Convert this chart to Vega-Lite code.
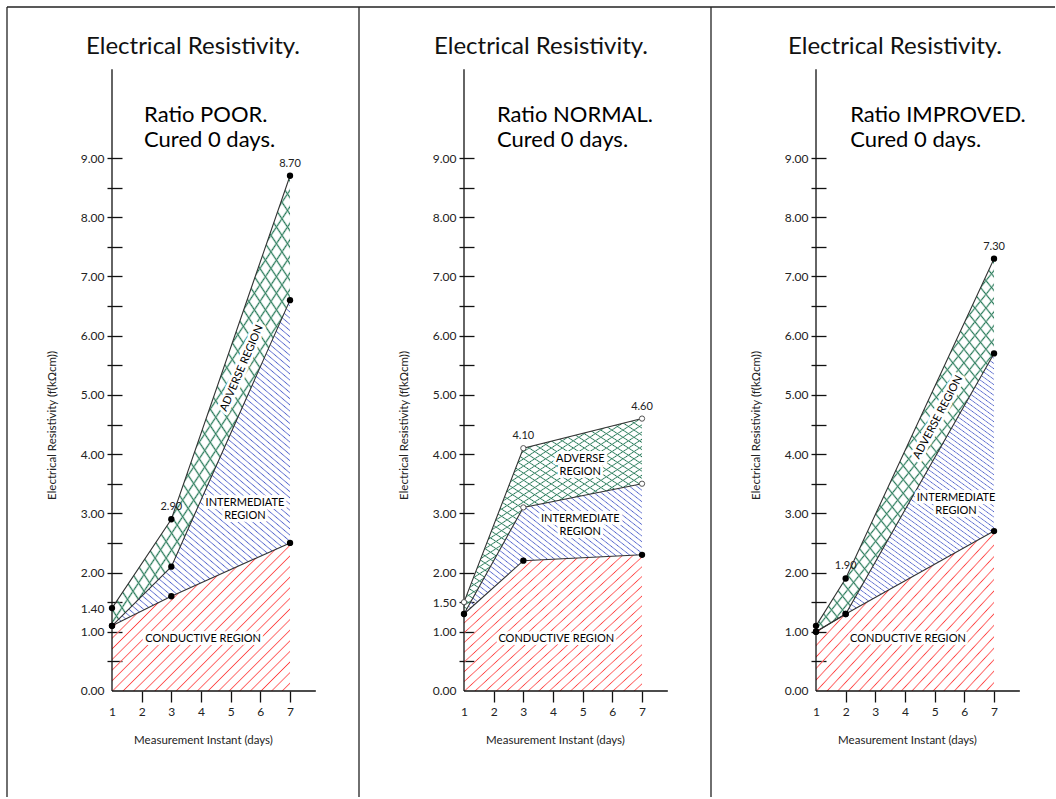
{
"$schema":"https://vega.github.io/schema/vega-lite/v6.json",
"padding":{"left":6,"top":6,"right":0,"bottom":0},
"background":"white",
"spacing":0,
"bounds":"flush",
"params":[
{"name":"gred","value":{"gradient":"linear","x1":0,"y1":0,"x2":1.409,"y2":1.172,"stops":[
{"offset":0,"color":"#f44"},{"offset":0.004,"color":"#fff0"},{"offset":0.021,"color":"#fff0"},
{"offset":0.025,"color":"#f44"},{"offset":0.029,"color":"#fff0"},{"offset":0.046,"color":"#fff0"},
{"offset":0.05,"color":"#f44"},{"offset":0.054,"color":"#fff0"},{"offset":0.071,"color":"#fff0"},
{"offset":0.075,"color":"#f44"},{"offset":0.079,"color":"#fff0"},{"offset":0.096,"color":"#fff0"},
{"offset":0.1,"color":"#f44"},{"offset":0.104,"color":"#fff0"},{"offset":0.121,"color":"#fff0"},
{"offset":0.125,"color":"#f44"},{"offset":0.129,"color":"#fff0"},{"offset":0.146,"color":"#fff0"},
{"offset":0.15,"color":"#f44"},{"offset":0.154,"color":"#fff0"},{"offset":0.171,"color":"#fff0"},
{"offset":0.175,"color":"#f44"},{"offset":0.179,"color":"#fff0"},{"offset":0.196,"color":"#fff0"},
{"offset":0.2,"color":"#f44"},{"offset":0.204,"color":"#fff0"},{"offset":0.221,"color":"#fff0"},
{"offset":0.225,"color":"#f44"},{"offset":0.229,"color":"#fff0"},{"offset":0.246,"color":"#fff0"},
{"offset":0.25,"color":"#f44"},{"offset":0.254,"color":"#fff0"},{"offset":0.271,"color":"#fff0"},
{"offset":0.275,"color":"#f44"},{"offset":0.279,"color":"#fff0"},{"offset":0.296,"color":"#fff0"},
{"offset":0.3,"color":"#f44"},{"offset":0.304,"color":"#fff0"},{"offset":0.321,"color":"#fff0"},
{"offset":0.325,"color":"#f44"},{"offset":0.329,"color":"#fff0"},{"offset":0.346,"color":"#fff0"},
{"offset":0.35,"color":"#f44"},{"offset":0.354,"color":"#fff0"},{"offset":0.371,"color":"#fff0"},
{"offset":0.375,"color":"#f44"},{"offset":0.379,"color":"#fff0"},{"offset":0.396,"color":"#fff0"},
{"offset":0.4,"color":"#f44"},{"offset":0.404,"color":"#fff0"},{"offset":0.421,"color":"#fff0"},
{"offset":0.425,"color":"#f44"},{"offset":0.429,"color":"#fff0"},{"offset":0.446,"color":"#fff0"},
{"offset":0.45,"color":"#f44"},{"offset":0.454,"color":"#fff0"},{"offset":0.471,"color":"#fff0"},
{"offset":0.475,"color":"#f44"},{"offset":0.479,"color":"#fff0"},{"offset":0.496,"color":"#fff0"},
{"offset":0.5,"color":"#f44"},{"offset":0.504,"color":"#fff0"},{"offset":0.521,"color":"#fff0"},
{"offset":0.525,"color":"#f44"},{"offset":0.529,"color":"#fff0"},{"offset":0.546,"color":"#fff0"},
{"offset":0.55,"color":"#f44"},{"offset":0.554,"color":"#fff0"},{"offset":0.571,"color":"#fff0"},
{"offset":0.575,"color":"#f44"},{"offset":0.579,"color":"#fff0"},{"offset":0.596,"color":"#fff0"},
{"offset":0.6,"color":"#f44"},{"offset":0.604,"color":"#fff0"},{"offset":0.621,"color":"#fff0"},
{"offset":0.625,"color":"#f44"},{"offset":0.629,"color":"#fff0"},{"offset":0.646,"color":"#fff0"},
{"offset":0.65,"color":"#f44"},{"offset":0.654,"color":"#fff0"},{"offset":0.671,"color":"#fff0"},
{"offset":0.675,"color":"#f44"},{"offset":0.679,"color":"#fff0"},{"offset":0.696,"color":"#fff0"},
{"offset":0.7,"color":"#f44"},{"offset":0.704,"color":"#fff0"},{"offset":0.721,"color":"#fff0"},
{"offset":0.725,"color":"#f44"},{"offset":0.729,"color":"#fff0"},{"offset":0.746,"color":"#fff0"},
{"offset":0.75,"color":"#f44"},{"offset":0.754,"color":"#fff0"},{"offset":0.771,"color":"#fff0"},
{"offset":0.775,"color":"#f44"},{"offset":0.779,"color":"#fff0"}
]}},
{"name":"gblue","value":{"gradient":"linear","x1":0,"y1":1,"x2":0.581,"y2":-0.253,"stops":[
{"offset":0,"color":"#56c"},{"offset":0.003,"color":"#fff0"},{"offset":0.0095,"color":"#fff0"},
{"offset":0.0125,"color":"#56c"},{"offset":0.0155,"color":"#fff0"},{"offset":0.022,"color":"#fff0"},
{"offset":0.025,"color":"#56c"},{"offset":0.028,"color":"#fff0"},{"offset":0.0345,"color":"#fff0"},
{"offset":0.0375,"color":"#56c"},{"offset":0.0405,"color":"#fff0"},{"offset":0.047,"color":"#fff0"},
{"offset":0.05,"color":"#56c"},{"offset":0.053,"color":"#fff0"},{"offset":0.0595,"color":"#fff0"},
{"offset":0.0625,"color":"#56c"},{"offset":0.0655,"color":"#fff0"},{"offset":0.072,"color":"#fff0"},
{"offset":0.075,"color":"#56c"},{"offset":0.078,"color":"#fff0"},{"offset":0.0845,"color":"#fff0"},
{"offset":0.0875,"color":"#56c"},{"offset":0.0905,"color":"#fff0"},{"offset":0.097,"color":"#fff0"},
{"offset":0.1,"color":"#56c"},{"offset":0.103,"color":"#fff0"},{"offset":0.1095,"color":"#fff0"},
{"offset":0.1125,"color":"#56c"},{"offset":0.1155,"color":"#fff0"},{"offset":0.122,"color":"#fff0"},
{"offset":0.125,"color":"#56c"},{"offset":0.128,"color":"#fff0"},{"offset":0.1345,"color":"#fff0"},
{"offset":0.1375,"color":"#56c"},{"offset":0.1405,"color":"#fff0"},{"offset":0.147,"color":"#fff0"},
{"offset":0.15,"color":"#56c"},{"offset":0.153,"color":"#fff0"},{"offset":0.1595,"color":"#fff0"},
{"offset":0.1625,"color":"#56c"},{"offset":0.1655,"color":"#fff0"},{"offset":0.172,"color":"#fff0"},
{"offset":0.175,"color":"#56c"},{"offset":0.178,"color":"#fff0"},{"offset":0.1845,"color":"#fff0"},
{"offset":0.1875,"color":"#56c"},{"offset":0.1905,"color":"#fff0"},{"offset":0.197,"color":"#fff0"},
{"offset":0.2,"color":"#56c"},{"offset":0.203,"color":"#fff0"},{"offset":0.2095,"color":"#fff0"},
{"offset":0.2125,"color":"#56c"},{"offset":0.2155,"color":"#fff0"},{"offset":0.222,"color":"#fff0"},
{"offset":0.225,"color":"#56c"},{"offset":0.228,"color":"#fff0"},{"offset":0.2345,"color":"#fff0"},
{"offset":0.2375,"color":"#56c"},{"offset":0.2405,"color":"#fff0"},{"offset":0.247,"color":"#fff0"},
{"offset":0.25,"color":"#56c"},{"offset":0.253,"color":"#fff0"},{"offset":0.2595,"color":"#fff0"},
{"offset":0.2625,"color":"#56c"},{"offset":0.2655,"color":"#fff0"},{"offset":0.272,"color":"#fff0"},
{"offset":0.275,"color":"#56c"},{"offset":0.278,"color":"#fff0"},{"offset":0.2845,"color":"#fff0"},
{"offset":0.2875,"color":"#56c"},{"offset":0.2905,"color":"#fff0"},{"offset":0.297,"color":"#fff0"},
{"offset":0.3,"color":"#56c"},{"offset":0.303,"color":"#fff0"},{"offset":0.3095,"color":"#fff0"},
{"offset":0.3125,"color":"#56c"},{"offset":0.3155,"color":"#fff0"},{"offset":0.322,"color":"#fff0"},
{"offset":0.325,"color":"#56c"},{"offset":0.328,"color":"#fff0"},{"offset":0.3345,"color":"#fff0"},
{"offset":0.3375,"color":"#56c"},{"offset":0.3405,"color":"#fff0"},{"offset":0.347,"color":"#fff0"},
{"offset":0.35,"color":"#56c"},{"offset":0.353,"color":"#fff0"},{"offset":0.3595,"color":"#fff0"},
{"offset":0.3625,"color":"#56c"},{"offset":0.3655,"color":"#fff0"},{"offset":0.372,"color":"#fff0"},
{"offset":0.375,"color":"#56c"},{"offset":0.378,"color":"#fff0"},{"offset":0.3845,"color":"#fff0"},
{"offset":0.3875,"color":"#56c"},{"offset":0.3905,"color":"#fff0"},{"offset":0.397,"color":"#fff0"},
{"offset":0.4,"color":"#56c"},{"offset":0.403,"color":"#fff0"},{"offset":0.4095,"color":"#fff0"},
{"offset":0.4125,"color":"#56c"},{"offset":0.4155,"color":"#fff0"},{"offset":0.422,"color":"#fff0"},
{"offset":0.425,"color":"#56c"},{"offset":0.428,"color":"#fff0"},{"offset":0.4345,"color":"#fff0"},
{"offset":0.4375,"color":"#56c"},{"offset":0.4405,"color":"#fff0"},{"offset":0.447,"color":"#fff0"},
{"offset":0.45,"color":"#56c"},{"offset":0.453,"color":"#fff0"},{"offset":0.4595,"color":"#fff0"},
{"offset":0.4625,"color":"#56c"},{"offset":0.4655,"color":"#fff0"},{"offset":0.472,"color":"#fff0"},
{"offset":0.475,"color":"#56c"},{"offset":0.478,"color":"#fff0"},{"offset":0.4845,"color":"#fff0"},
{"offset":0.4875,"color":"#56c"},{"offset":0.4905,"color":"#fff0"},{"offset":0.497,"color":"#fff0"},
{"offset":0.5,"color":"#56c"},{"offset":0.503,"color":"#fff0"},{"offset":0.5095,"color":"#fff0"},
{"offset":0.5125,"color":"#56c"},{"offset":0.5155,"color":"#fff0"},{"offset":0.522,"color":"#fff0"},
{"offset":0.525,"color":"#56c"},{"offset":0.528,"color":"#fff0"},{"offset":0.5345,"color":"#fff0"},
{"offset":0.5375,"color":"#56c"},{"offset":0.5405,"color":"#fff0"},{"offset":0.547,"color":"#fff0"},
{"offset":0.55,"color":"#56c"},{"offset":0.553,"color":"#fff0"},{"offset":0.5595,"color":"#fff0"},
{"offset":0.5625,"color":"#56c"},{"offset":0.5655,"color":"#fff0"},{"offset":0.572,"color":"#fff0"},
{"offset":0.575,"color":"#56c"},{"offset":0.578,"color":"#fff0"},{"offset":0.5845,"color":"#fff0"},
{"offset":0.5875,"color":"#56c"},{"offset":0.5905,"color":"#fff0"},{"offset":0.597,"color":"#fff0"},
{"offset":0.6,"color":"#56c"},{"offset":0.603,"color":"#fff0"},{"offset":0.6095,"color":"#fff0"},
{"offset":0.6125,"color":"#56c"},{"offset":0.6155,"color":"#fff0"},{"offset":0.622,"color":"#fff0"},
{"offset":0.625,"color":"#56c"},{"offset":0.628,"color":"#fff0"},{"offset":0.6345,"color":"#fff0"},
{"offset":0.6375,"color":"#56c"},{"offset":0.6405,"color":"#fff0"},{"offset":0.647,"color":"#fff0"},
{"offset":0.65,"color":"#56c"},{"offset":0.653,"color":"#fff0"},{"offset":0.6595,"color":"#fff0"},
{"offset":0.6625,"color":"#56c"},{"offset":0.6655,"color":"#fff0"},{"offset":0.672,"color":"#fff0"},
{"offset":0.675,"color":"#56c"},{"offset":0.678,"color":"#fff0"},{"offset":0.6845,"color":"#fff0"},
{"offset":0.6875,"color":"#56c"},{"offset":0.6905,"color":"#fff0"},{"offset":0.697,"color":"#fff0"},
{"offset":0.7,"color":"#56c"},{"offset":0.703,"color":"#fff0"},{"offset":0.7095,"color":"#fff0"},
{"offset":0.7125,"color":"#56c"},{"offset":0.7155,"color":"#fff0"},{"offset":0.722,"color":"#fff0"},
{"offset":0.725,"color":"#56c"},{"offset":0.728,"color":"#fff0"},{"offset":0.7345,"color":"#fff0"},
{"offset":0.7375,"color":"#56c"},{"offset":0.7405,"color":"#fff0"},{"offset":0.747,"color":"#fff0"},
{"offset":0.75,"color":"#56c"},{"offset":0.753,"color":"#fff0"},{"offset":0.7595,"color":"#fff0"},
{"offset":0.7625,"color":"#56c"},{"offset":0.7655,"color":"#fff0"},{"offset":0.772,"color":"#fff0"},
{"offset":0.775,"color":"#56c"},{"offset":0.778,"color":"#fff0"},{"offset":0.7845,"color":"#fff0"},
{"offset":0.7875,"color":"#56c"},{"offset":0.7905,"color":"#fff0"},{"offset":0.797,"color":"#fff0"},
{"offset":0.8,"color":"#56c"},{"offset":0.803,"color":"#fff0"},{"offset":0.8095,"color":"#fff0"},
{"offset":0.8125,"color":"#56c"},{"offset":0.8155,"color":"#fff0"},{"offset":0.822,"color":"#fff0"},
{"offset":0.825,"color":"#56c"},{"offset":0.828,"color":"#fff0"},{"offset":0.8345,"color":"#fff0"},
{"offset":0.8375,"color":"#56c"},{"offset":0.8405,"color":"#fff0"},{"offset":0.847,"color":"#fff0"},
{"offset":0.85,"color":"#56c"},{"offset":0.853,"color":"#fff0"},{"offset":0.8595,"color":"#fff0"},
{"offset":0.8625,"color":"#56c"},{"offset":0.8655,"color":"#fff0"},{"offset":0.872,"color":"#fff0"},
{"offset":0.875,"color":"#56c"},{"offset":0.878,"color":"#fff0"},{"offset":0.8845,"color":"#fff0"},
{"offset":0.8875,"color":"#56c"},{"offset":0.8905,"color":"#fff0"},{"offset":0.897,"color":"#fff0"},
{"offset":0.9,"color":"#56c"},{"offset":0.903,"color":"#fff0"},{"offset":0.9095,"color":"#fff0"},
{"offset":0.9125,"color":"#56c"},{"offset":0.9155,"color":"#fff0"},{"offset":0.922,"color":"#fff0"},
{"offset":0.925,"color":"#56c"},{"offset":0.928,"color":"#fff0"},{"offset":0.9345,"color":"#fff0"},
{"offset":0.9375,"color":"#56c"},{"offset":0.9405,"color":"#fff0"},{"offset":0.947,"color":"#fff0"},
{"offset":0.95,"color":"#56c"},{"offset":0.953,"color":"#fff0"}
]}},
{"name":"gblue2","value":{"gradient":"linear","x1":0,"y1":1,"x2":1.752,"y2":-0.637,"stops":[
{"offset":0,"color":"#56c"},{"offset":0.003,"color":"#fff0"},{"offset":0.0095,"color":"#fff0"},
{"offset":0.0125,"color":"#56c"},{"offset":0.0155,"color":"#fff0"},{"offset":0.022,"color":"#fff0"},
{"offset":0.025,"color":"#56c"},{"offset":0.028,"color":"#fff0"},{"offset":0.0345,"color":"#fff0"},
{"offset":0.0375,"color":"#56c"},{"offset":0.0405,"color":"#fff0"},{"offset":0.047,"color":"#fff0"},
{"offset":0.05,"color":"#56c"},{"offset":0.053,"color":"#fff0"},{"offset":0.0595,"color":"#fff0"},
{"offset":0.0625,"color":"#56c"},{"offset":0.0655,"color":"#fff0"},{"offset":0.072,"color":"#fff0"},
{"offset":0.075,"color":"#56c"},{"offset":0.078,"color":"#fff0"},{"offset":0.0845,"color":"#fff0"},
{"offset":0.0875,"color":"#56c"},{"offset":0.0905,"color":"#fff0"},{"offset":0.097,"color":"#fff0"},
{"offset":0.1,"color":"#56c"},{"offset":0.103,"color":"#fff0"},{"offset":0.1095,"color":"#fff0"},
{"offset":0.1125,"color":"#56c"},{"offset":0.1155,"color":"#fff0"},{"offset":0.122,"color":"#fff0"},
{"offset":0.125,"color":"#56c"},{"offset":0.128,"color":"#fff0"},{"offset":0.1345,"color":"#fff0"},
{"offset":0.1375,"color":"#56c"},{"offset":0.1405,"color":"#fff0"},{"offset":0.147,"color":"#fff0"},
{"offset":0.15,"color":"#56c"},{"offset":0.153,"color":"#fff0"},{"offset":0.1595,"color":"#fff0"},
{"offset":0.1625,"color":"#56c"},{"offset":0.1655,"color":"#fff0"},{"offset":0.172,"color":"#fff0"},
{"offset":0.175,"color":"#56c"},{"offset":0.178,"color":"#fff0"},{"offset":0.1845,"color":"#fff0"},
{"offset":0.1875,"color":"#56c"},{"offset":0.1905,"color":"#fff0"},{"offset":0.197,"color":"#fff0"},
{"offset":0.2,"color":"#56c"},{"offset":0.203,"color":"#fff0"},{"offset":0.2095,"color":"#fff0"},
{"offset":0.2125,"color":"#56c"},{"offset":0.2155,"color":"#fff0"},{"offset":0.222,"color":"#fff0"},
{"offset":0.225,"color":"#56c"},{"offset":0.228,"color":"#fff0"},{"offset":0.2345,"color":"#fff0"},
{"offset":0.2375,"color":"#56c"},{"offset":0.2405,"color":"#fff0"},{"offset":0.247,"color":"#fff0"},
{"offset":0.25,"color":"#56c"},{"offset":0.253,"color":"#fff0"},{"offset":0.2595,"color":"#fff0"},
{"offset":0.2625,"color":"#56c"},{"offset":0.2655,"color":"#fff0"},{"offset":0.272,"color":"#fff0"},
{"offset":0.275,"color":"#56c"},{"offset":0.278,"color":"#fff0"},{"offset":0.2845,"color":"#fff0"},
{"offset":0.2875,"color":"#56c"},{"offset":0.2905,"color":"#fff0"},{"offset":0.297,"color":"#fff0"},
{"offset":0.3,"color":"#56c"},{"offset":0.303,"color":"#fff0"},{"offset":0.3095,"color":"#fff0"},
{"offset":0.3125,"color":"#56c"},{"offset":0.3155,"color":"#fff0"},{"offset":0.322,"color":"#fff0"},
{"offset":0.325,"color":"#56c"},{"offset":0.328,"color":"#fff0"},{"offset":0.3345,"color":"#fff0"},
{"offset":0.3375,"color":"#56c"},{"offset":0.3405,"color":"#fff0"},{"offset":0.347,"color":"#fff0"},
{"offset":0.35,"color":"#56c"},{"offset":0.353,"color":"#fff0"},{"offset":0.3595,"color":"#fff0"},
{"offset":0.3625,"color":"#56c"},{"offset":0.3655,"color":"#fff0"},{"offset":0.372,"color":"#fff0"},
{"offset":0.375,"color":"#56c"},{"offset":0.378,"color":"#fff0"},{"offset":0.3845,"color":"#fff0"},
{"offset":0.3875,"color":"#56c"},{"offset":0.3905,"color":"#fff0"},{"offset":0.397,"color":"#fff0"},
{"offset":0.4,"color":"#56c"},{"offset":0.403,"color":"#fff0"},{"offset":0.4095,"color":"#fff0"},
{"offset":0.4125,"color":"#56c"},{"offset":0.4155,"color":"#fff0"},{"offset":0.422,"color":"#fff0"},
{"offset":0.425,"color":"#56c"},{"offset":0.428,"color":"#fff0"},{"offset":0.4345,"color":"#fff0"},
{"offset":0.4375,"color":"#56c"},{"offset":0.4405,"color":"#fff0"},{"offset":0.447,"color":"#fff0"},
{"offset":0.45,"color":"#56c"},{"offset":0.453,"color":"#fff0"},{"offset":0.4595,"color":"#fff0"},
{"offset":0.4625,"color":"#56c"},{"offset":0.4655,"color":"#fff0"},{"offset":0.472,"color":"#fff0"},
{"offset":0.475,"color":"#56c"},{"offset":0.478,"color":"#fff0"},{"offset":0.4845,"color":"#fff0"},
{"offset":0.4875,"color":"#56c"},{"offset":0.4905,"color":"#fff0"},{"offset":0.497,"color":"#fff0"},
{"offset":0.5,"color":"#56c"},{"offset":0.503,"color":"#fff0"},{"offset":0.5095,"color":"#fff0"},
{"offset":0.5125,"color":"#56c"},{"offset":0.5155,"color":"#fff0"},{"offset":0.522,"color":"#fff0"},
{"offset":0.525,"color":"#56c"},{"offset":0.528,"color":"#fff0"},{"offset":0.5345,"color":"#fff0"},
{"offset":0.5375,"color":"#56c"},{"offset":0.5405,"color":"#fff0"},{"offset":0.547,"color":"#fff0"},
{"offset":0.55,"color":"#56c"},{"offset":0.553,"color":"#fff0"},{"offset":0.5595,"color":"#fff0"},
{"offset":0.5625,"color":"#56c"},{"offset":0.5655,"color":"#fff0"},{"offset":0.572,"color":"#fff0"},
{"offset":0.575,"color":"#56c"},{"offset":0.578,"color":"#fff0"},{"offset":0.5845,"color":"#fff0"},
{"offset":0.5875,"color":"#56c"},{"offset":0.5905,"color":"#fff0"}
]}},
{"name":"gg1","value":{"gradient":"linear","x1":0,"y1":0,"x2":0.807,"y2":1.36,"stops":[
{"offset":0,"color":"#275"},{"offset":0.004,"color":"#fff0"},{"offset":0.016,"color":"#fff0"},
{"offset":0.02,"color":"#275"},{"offset":0.024,"color":"#fff0"},{"offset":0.036,"color":"#fff0"},
{"offset":0.04,"color":"#275"},{"offset":0.044,"color":"#fff0"},{"offset":0.056,"color":"#fff0"},
{"offset":0.06,"color":"#275"},{"offset":0.064,"color":"#fff0"},{"offset":0.076,"color":"#fff0"},
{"offset":0.08,"color":"#275"},{"offset":0.084,"color":"#fff0"},{"offset":0.096,"color":"#fff0"},
{"offset":0.1,"color":"#275"},{"offset":0.104,"color":"#fff0"},{"offset":0.116,"color":"#fff0"},
{"offset":0.12,"color":"#275"},{"offset":0.124,"color":"#fff0"},{"offset":0.136,"color":"#fff0"},
{"offset":0.14,"color":"#275"},{"offset":0.144,"color":"#fff0"},{"offset":0.156,"color":"#fff0"},
{"offset":0.16,"color":"#275"},{"offset":0.164,"color":"#fff0"},{"offset":0.176,"color":"#fff0"},
{"offset":0.18,"color":"#275"},{"offset":0.184,"color":"#fff0"},{"offset":0.196,"color":"#fff0"},
{"offset":0.2,"color":"#275"},{"offset":0.204,"color":"#fff0"},{"offset":0.216,"color":"#fff0"},
{"offset":0.22,"color":"#275"},{"offset":0.224,"color":"#fff0"},{"offset":0.236,"color":"#fff0"},
{"offset":0.24,"color":"#275"},{"offset":0.244,"color":"#fff0"},{"offset":0.256,"color":"#fff0"},
{"offset":0.26,"color":"#275"},{"offset":0.264,"color":"#fff0"},{"offset":0.276,"color":"#fff0"},
{"offset":0.28,"color":"#275"},{"offset":0.284,"color":"#fff0"},{"offset":0.296,"color":"#fff0"},
{"offset":0.3,"color":"#275"},{"offset":0.304,"color":"#fff0"},{"offset":0.316,"color":"#fff0"},
{"offset":0.32,"color":"#275"},{"offset":0.324,"color":"#fff0"},{"offset":0.336,"color":"#fff0"},
{"offset":0.34,"color":"#275"},{"offset":0.344,"color":"#fff0"},{"offset":0.356,"color":"#fff0"},
{"offset":0.36,"color":"#275"},{"offset":0.364,"color":"#fff0"},{"offset":0.376,"color":"#fff0"},
{"offset":0.38,"color":"#275"},{"offset":0.384,"color":"#fff0"},{"offset":0.396,"color":"#fff0"},
{"offset":0.4,"color":"#275"},{"offset":0.404,"color":"#fff0"},{"offset":0.416,"color":"#fff0"},
{"offset":0.42,"color":"#275"},{"offset":0.424,"color":"#fff0"},{"offset":0.436,"color":"#fff0"},
{"offset":0.44,"color":"#275"},{"offset":0.444,"color":"#fff0"},{"offset":0.456,"color":"#fff0"},
{"offset":0.46,"color":"#275"},{"offset":0.464,"color":"#fff0"},{"offset":0.476,"color":"#fff0"},
{"offset":0.48,"color":"#275"},{"offset":0.484,"color":"#fff0"},{"offset":0.496,"color":"#fff0"},
{"offset":0.5,"color":"#275"},{"offset":0.504,"color":"#fff0"},{"offset":0.516,"color":"#fff0"},
{"offset":0.52,"color":"#275"},{"offset":0.524,"color":"#fff0"},{"offset":0.536,"color":"#fff0"},
{"offset":0.54,"color":"#275"},{"offset":0.544,"color":"#fff0"},{"offset":0.556,"color":"#fff0"},
{"offset":0.56,"color":"#275"},{"offset":0.564,"color":"#fff0"},{"offset":0.576,"color":"#fff0"},
{"offset":0.58,"color":"#275"},{"offset":0.584,"color":"#fff0"},{"offset":0.596,"color":"#fff0"},
{"offset":0.6,"color":"#275"},{"offset":0.604,"color":"#fff0"},{"offset":0.616,"color":"#fff0"},
{"offset":0.62,"color":"#275"},{"offset":0.624,"color":"#fff0"},{"offset":0.636,"color":"#fff0"},
{"offset":0.64,"color":"#275"},{"offset":0.644,"color":"#fff0"},{"offset":0.656,"color":"#fff0"},
{"offset":0.66,"color":"#275"},{"offset":0.664,"color":"#fff0"},{"offset":0.676,"color":"#fff0"},
{"offset":0.68,"color":"#275"},{"offset":0.684,"color":"#fff0"},{"offset":0.696,"color":"#fff0"},
{"offset":0.7,"color":"#275"},{"offset":0.704,"color":"#fff0"},{"offset":0.716,"color":"#fff0"},
{"offset":0.72,"color":"#275"},{"offset":0.724,"color":"#fff0"},{"offset":0.736,"color":"#fff0"},
{"offset":0.74,"color":"#275"},{"offset":0.744,"color":"#fff0"},{"offset":0.756,"color":"#fff0"},
{"offset":0.76,"color":"#275"},{"offset":0.764,"color":"#fff0"},{"offset":0.776,"color":"#fff0"},
{"offset":0.78,"color":"#275"},{"offset":0.784,"color":"#fff0"},{"offset":0.796,"color":"#fff0"},
{"offset":0.8,"color":"#275"},{"offset":0.804,"color":"#fff0"},{"offset":0.816,"color":"#fff0"},
{"offset":0.82,"color":"#275"},{"offset":0.824,"color":"#fff0"},{"offset":0.836,"color":"#fff0"},
{"offset":0.84,"color":"#275"},{"offset":0.844,"color":"#fff0"},{"offset":0.856,"color":"#fff0"},
{"offset":0.86,"color":"#275"},{"offset":0.864,"color":"#fff0"},{"offset":0.876,"color":"#fff0"},
{"offset":0.88,"color":"#275"},{"offset":0.884,"color":"#fff0"}
]}},
{"name":"gg2","value":{"gradient":"linear","x1":0,"y1":1,"x2":0.807,"y2":-0.36,"stops":[
{"offset":0,"color":"#275"},{"offset":0.004,"color":"#fff0"},{"offset":0.016,"color":"#fff0"},
{"offset":0.02,"color":"#275"},{"offset":0.024,"color":"#fff0"},{"offset":0.036,"color":"#fff0"},
{"offset":0.04,"color":"#275"},{"offset":0.044,"color":"#fff0"},{"offset":0.056,"color":"#fff0"},
{"offset":0.06,"color":"#275"},{"offset":0.064,"color":"#fff0"},{"offset":0.076,"color":"#fff0"},
{"offset":0.08,"color":"#275"},{"offset":0.084,"color":"#fff0"},{"offset":0.096,"color":"#fff0"},
{"offset":0.1,"color":"#275"},{"offset":0.104,"color":"#fff0"},{"offset":0.116,"color":"#fff0"},
{"offset":0.12,"color":"#275"},{"offset":0.124,"color":"#fff0"},{"offset":0.136,"color":"#fff0"},
{"offset":0.14,"color":"#275"},{"offset":0.144,"color":"#fff0"},{"offset":0.156,"color":"#fff0"},
{"offset":0.16,"color":"#275"},{"offset":0.164,"color":"#fff0"},{"offset":0.176,"color":"#fff0"},
{"offset":0.18,"color":"#275"},{"offset":0.184,"color":"#fff0"},{"offset":0.196,"color":"#fff0"},
{"offset":0.2,"color":"#275"},{"offset":0.204,"color":"#fff0"},{"offset":0.216,"color":"#fff0"},
{"offset":0.22,"color":"#275"},{"offset":0.224,"color":"#fff0"},{"offset":0.236,"color":"#fff0"},
{"offset":0.24,"color":"#275"},{"offset":0.244,"color":"#fff0"},{"offset":0.256,"color":"#fff0"},
{"offset":0.26,"color":"#275"},{"offset":0.264,"color":"#fff0"},{"offset":0.276,"color":"#fff0"},
{"offset":0.28,"color":"#275"},{"offset":0.284,"color":"#fff0"},{"offset":0.296,"color":"#fff0"},
{"offset":0.3,"color":"#275"},{"offset":0.304,"color":"#fff0"},{"offset":0.316,"color":"#fff0"},
{"offset":0.32,"color":"#275"},{"offset":0.324,"color":"#fff0"},{"offset":0.336,"color":"#fff0"},
{"offset":0.34,"color":"#275"},{"offset":0.344,"color":"#fff0"},{"offset":0.356,"color":"#fff0"},
{"offset":0.36,"color":"#275"},{"offset":0.364,"color":"#fff0"},{"offset":0.376,"color":"#fff0"},
{"offset":0.38,"color":"#275"},{"offset":0.384,"color":"#fff0"},{"offset":0.396,"color":"#fff0"},
{"offset":0.4,"color":"#275"},{"offset":0.404,"color":"#fff0"},{"offset":0.416,"color":"#fff0"},
{"offset":0.42,"color":"#275"},{"offset":0.424,"color":"#fff0"},{"offset":0.436,"color":"#fff0"},
{"offset":0.44,"color":"#275"},{"offset":0.444,"color":"#fff0"},{"offset":0.456,"color":"#fff0"},
{"offset":0.46,"color":"#275"},{"offset":0.464,"color":"#fff0"},{"offset":0.476,"color":"#fff0"},
{"offset":0.48,"color":"#275"},{"offset":0.484,"color":"#fff0"},{"offset":0.496,"color":"#fff0"},
{"offset":0.5,"color":"#275"},{"offset":0.504,"color":"#fff0"},{"offset":0.516,"color":"#fff0"},
{"offset":0.52,"color":"#275"},{"offset":0.524,"color":"#fff0"},{"offset":0.536,"color":"#fff0"},
{"offset":0.54,"color":"#275"},{"offset":0.544,"color":"#fff0"},{"offset":0.556,"color":"#fff0"},
{"offset":0.56,"color":"#275"},{"offset":0.564,"color":"#fff0"},{"offset":0.576,"color":"#fff0"},
{"offset":0.58,"color":"#275"},{"offset":0.584,"color":"#fff0"},{"offset":0.596,"color":"#fff0"},
{"offset":0.6,"color":"#275"},{"offset":0.604,"color":"#fff0"},{"offset":0.616,"color":"#fff0"},
{"offset":0.62,"color":"#275"},{"offset":0.624,"color":"#fff0"},{"offset":0.636,"color":"#fff0"},
{"offset":0.64,"color":"#275"},{"offset":0.644,"color":"#fff0"},{"offset":0.656,"color":"#fff0"},
{"offset":0.66,"color":"#275"},{"offset":0.664,"color":"#fff0"},{"offset":0.676,"color":"#fff0"},
{"offset":0.68,"color":"#275"},{"offset":0.684,"color":"#fff0"},{"offset":0.696,"color":"#fff0"},
{"offset":0.7,"color":"#275"},{"offset":0.704,"color":"#fff0"},{"offset":0.716,"color":"#fff0"},
{"offset":0.72,"color":"#275"},{"offset":0.724,"color":"#fff0"},{"offset":0.736,"color":"#fff0"},
{"offset":0.74,"color":"#275"},{"offset":0.744,"color":"#fff0"},{"offset":0.756,"color":"#fff0"},
{"offset":0.76,"color":"#275"},{"offset":0.764,"color":"#fff0"},{"offset":0.776,"color":"#fff0"},
{"offset":0.78,"color":"#275"},{"offset":0.784,"color":"#fff0"},{"offset":0.796,"color":"#fff0"},
{"offset":0.8,"color":"#275"},{"offset":0.804,"color":"#fff0"},{"offset":0.816,"color":"#fff0"},
{"offset":0.82,"color":"#275"},{"offset":0.824,"color":"#fff0"},{"offset":0.836,"color":"#fff0"},
{"offset":0.84,"color":"#275"},{"offset":0.844,"color":"#fff0"},{"offset":0.856,"color":"#fff0"},
{"offset":0.86,"color":"#275"},{"offset":0.864,"color":"#fff0"},{"offset":0.876,"color":"#fff0"},
{"offset":0.88,"color":"#275"},{"offset":0.884,"color":"#fff0"}
]}}
],
"datasets":{
"area":[
{"panel":"POOR","day":1,"cond":1.1,"inter":1.1,"adv":1.4},
{"panel":"POOR","day":3,"cond":1.6,"inter":2.1,"adv":2.9},
{"panel":"POOR","day":7,"cond":2.5,"inter":6.6,"adv":8.7},
{"panel":"NORMAL","day":1,"cond":1.3,"inter":1.3,"adv":1.5},
{"panel":"NORMAL","day":3,"cond":2.2,"inter":3.1,"adv":4.1},
{"panel":"NORMAL","day":7,"cond":2.3,"inter":3.5,"adv":4.6},
{"panel":"IMPROVED","day":1,"cond":1.0,"inter":1.0,"adv":1.1},
{"panel":"IMPROVED","day":2,"cond":1.3,"inter":1.3,"adv":1.9},
{"panel":"IMPROVED","day":7,"cond":2.7,"inter":5.7,"adv":7.3}
],
"rlab":[
{"panel":"POOR","day":4.07,"value":0.87,"text":"CONDUCTIVE REGION"},
{"panel":"POOR","day":5.48,"value":3.18,"text":"INTERMEDIATE\nREGION"},
{"panel":"NORMAL","day":4.11,"value":0.87,"text":"CONDUCTIVE REGION"},
{"panel":"NORMAL","day":4.92,"value":2.9,"text":"INTERMEDIATE\nREGION"},
{"panel":"NORMAL","day":4.92,"value":3.92,"text":"ADVERSE\nREGION"},
{"panel":"IMPROVED","day":4.1,"value":0.88,"text":"CONDUCTIVE REGION"},
{"panel":"IMPROVED","day":5.72,"value":3.26,"text":"INTERMEDIATE\nREGION"}
],
"rrot":[
{"panel":"POOR","day":5.38,"value":5.45,"text":"ADVERSE REGION"},
{"panel":"IMPROVED","day":5.12,"value":4.62,"text":"ADVERSE REGION"}
],
"ratio":[
{"panel":"POOR","day":2.08,"value":9.73,"text":"Ratio POOR.\nCured 0 days."},
{"panel":"NORMAL","day":2.11,"value":9.73,"text":"Ratio NORMAL.\nCured 0 days."},
{"panel":"IMPROVED","day":2.15,"value":9.73,"text":"Ratio IMPROVED.\nCured 0 days."}
],
"one":[{}]
},
"hconcat":[
{
"width":352,"height":790,
"title":{"text":"Electrical Resistivity.","dx":10},
"layer":[
{"data":{"name":"area"},"transform":[{"filter":"datum.panel==='POOR'"}],"mark":{"type":"area","fill":{"expr":"gred"}},
"encoding":{
"x":{"field":"day","type":"quantitative","scale":{"domain":[-2.539,9.325],"nice":false,"zero":false},"axis":{"values":[1,2,3,4,5,6,7],"title":"Measurement Instant (days)","tickColor":{"condition":{"test":"datum.value===1","value":"transparent"},"value":"#111"}}},
"y":{"field":"cond","type":"quantitative","scale":{"domain":[-1.79,11.55],"nice":false,"zero":false},"axis":{"values":[0,0.5,1,1.4,1.5,2,2.5,3,3.5,4,4.5,5,5.5,6,6.5,7,7.5,8,8.5,9],"labelExpr":"datum.value % 1 === 0 || datum.value === 1.4 ? format(datum.value, '.2f') : ''","tickColor":{"condition":{"test":"datum.value===0 || datum.value===1.4","value":"transparent"},"value":"#111"},"title":"Electrical Resistivity (f(kΩcm))"}},
"y2":{"datum":0}}},
{"data":{"name":"area"},"transform":[{"filter":"datum.panel==='POOR'"}],"mark":{"type":"area","fill":{"expr":"gblue"}},"encoding":{"x":{"field":"day","type":"quantitative"},"y":{"field":"inter","type":"quantitative"},"y2":{"field":"cond"}}},
{"data":{"name":"area"},"transform":[{"filter":"datum.panel==='POOR'"}],"mark":{"type":"area","fill":{"expr":"gg1"}},"encoding":{"x":{"field":"day","type":"quantitative"},"y":{"field":"adv","type":"quantitative"},"y2":{"field":"inter"}}},
{"data":{"name":"area"},"transform":[{"filter":"datum.panel==='POOR'"}],"mark":{"type":"area","fill":{"expr":"gg2"}},"encoding":{"x":{"field":"day","type":"quantitative"},"y":{"field":"adv","type":"quantitative"},"y2":{"field":"inter"}}},
{"data":{"name":"area"},"transform":[{"filter":"datum.panel==='POOR'"},{"fold":["cond","inter","adv"],"as":["series","v"]}],"mark":{"type":"line","stroke":"#333","strokeWidth":1.1},"encoding":{"x":{"field":"day","type":"quantitative"},"y":{"field":"v","type":"quantitative"},"detail":{"field":"series"}}},
{"data":{"name":"one"},"mark":{"type":"rule","stroke":"#111","strokeWidth":1.3},"encoding":{"x":{"datum":1},"y":{"datum":0},"y2":{"datum":10.5}}},
{"data":{"name":"one"},"mark":{"type":"rule","stroke":"#111","strokeWidth":1.3},"encoding":{"x":{"datum":1},"x2":{"datum":7.87},"y":{"datum":0}}},
{"data":{"name":"one"},"mark":{"type":"rule","stroke":"#222","strokeWidth":1.3},"encoding":{"x":{"datum":-2.539}}},
{"data":{"name":"one"},"mark":{"type":"rule","stroke":"#222","strokeWidth":1.3},"encoding":{"y":{"datum":11.55}}},
{"data":{"name":"area"},"transform":[{"filter":"datum.panel==='POOR'"},{"fold":["cond","inter","adv"],"as":["series","v"]}],"mark":{"type":"circle","size":40,"color":"#000","opacity":1},"encoding":{"x":{"field":"day","type":"quantitative"},"y":{"field":"v","type":"quantitative"}}},
{"data":{"name":"area"},"transform":[{"filter":"datum.panel==='POOR' && datum.day>1"}],"mark":{"type":"text","dy":-12,"font":"Lato","fontSize":11,"color":"#222"},"encoding":{"x":{"field":"day","type":"quantitative"},"y":{"field":"adv","type":"quantitative"},"text":{"field":"adv","type":"quantitative","format":".2f"}}},
{"data":{"name":"rlab"},"transform":[{"filter":"datum.panel==='POOR'"}],"mark":{"type":"text","style":"halo"},"encoding":{"x":{"field":"day","type":"quantitative"},"y":{"field":"value","type":"quantitative"},"text":{"field":"text"}}},
{"data":{"name":"rlab"},"transform":[{"filter":"datum.panel==='POOR'"}],"mark":{"type":"text","style":"rtext"},"encoding":{"x":{"field":"day","type":"quantitative"},"y":{"field":"value","type":"quantitative"},"text":{"field":"text"}}},
{"data":{"name":"rrot"},"transform":[{"filter":"datum.panel==='POOR'"}],"mark":{"type":"text","style":"halo","angle":293.5},"encoding":{"x":{"field":"day","type":"quantitative"},"y":{"field":"value","type":"quantitative"},"text":{"field":"text"}}},
{"data":{"name":"rrot"},"transform":[{"filter":"datum.panel==='POOR'"}],"mark":{"type":"text","style":"rtext","angle":293.5},"encoding":{"x":{"field":"day","type":"quantitative"},"y":{"field":"value","type":"quantitative"},"text":{"field":"text"}}},
{"data":{"name":"ratio"},"transform":[{"filter":"datum.panel==='POOR'"}],"mark":{"type":"text","style":"ratio"},"encoding":{"x":{"field":"day","type":"quantitative"},"y":{"field":"value","type":"quantitative"},"text":{"field":"text"}}}
]
},
{
"width":352,"height":790,
"title":{"text":"Electrical Resistivity.","dx":6},
"layer":[
{"data":{"name":"area"},"transform":[{"filter":"datum.panel==='NORMAL'"}],"mark":{"type":"area","fill":{"expr":"gred"}},
"encoding":{
"x":{"field":"day","type":"quantitative","scale":{"domain":[-2.539,9.325],"nice":false,"zero":false},"axis":{"values":[1,2,3,4,5,6,7],"title":"Measurement Instant (days)","tickColor":{"condition":{"test":"datum.value===1","value":"transparent"},"value":"#111"}}},
"y":{"field":"cond","type":"quantitative","scale":{"domain":[-1.79,11.55],"nice":false,"zero":false},"axis":{"values":[0,0.5,1,1.5,2,2.5,3,3.5,4,4.5,5,5.5,6,6.5,7,7.5,8,8.5,9],"labelExpr":"datum.value % 1 === 0 || datum.value === 1.5 ? format(datum.value, '.2f') : ''","tickColor":{"condition":{"test":"datum.value===0","value":"transparent"},"value":"#111"},"title":"Electrical Resistivity (f(kΩcm))"}},
"y2":{"datum":0}}},
{"data":{"name":"area"},"transform":[{"filter":"datum.panel==='NORMAL'"}],"mark":{"type":"area","fill":{"expr":"gblue2"}},"encoding":{"x":{"field":"day","type":"quantitative"},"y":{"field":"inter","type":"quantitative"},"y2":{"field":"cond"}}},
{"data":{"name":"area"},"transform":[{"filter":"datum.panel==='NORMAL'"}],"mark":{"type":"area","fill":{"expr":"gg1"}},"encoding":{"x":{"field":"day","type":"quantitative"},"y":{"field":"adv","type":"quantitative"},"y2":{"field":"inter"}}},
{"data":{"name":"area"},"transform":[{"filter":"datum.panel==='NORMAL'"}],"mark":{"type":"area","fill":{"expr":"gg2"}},"encoding":{"x":{"field":"day","type":"quantitative"},"y":{"field":"adv","type":"quantitative"},"y2":{"field":"inter"}}},
{"data":{"name":"area"},"transform":[{"filter":"datum.panel==='NORMAL'"},{"fold":["cond","inter","adv"],"as":["series","v"]}],"mark":{"type":"line","stroke":"#333","strokeWidth":1.1},"encoding":{"x":{"field":"day","type":"quantitative"},"y":{"field":"v","type":"quantitative"},"detail":{"field":"series"}}},
{"data":{"name":"one"},"mark":{"type":"rule","stroke":"#111","strokeWidth":1.3},"encoding":{"x":{"datum":1},"y":{"datum":0},"y2":{"datum":10.5}}},
{"data":{"name":"one"},"mark":{"type":"rule","stroke":"#111","strokeWidth":1.3},"encoding":{"x":{"datum":1},"x2":{"datum":7.87},"y":{"datum":0}}},
{"data":{"name":"one"},"mark":{"type":"rule","stroke":"#222","strokeWidth":1.3},"encoding":{"x":{"datum":-2.539}}},
{"data":{"name":"one"},"mark":{"type":"rule","stroke":"#222","strokeWidth":1.3},"encoding":{"y":{"datum":11.55}}},
{"data":{"name":"area"},"transform":[{"filter":"datum.panel==='NORMAL'"},{"fold":["inter","adv"],"as":["series","v"]}],"mark":{"type":"circle","size":28,"fill":"white","stroke":"#555","strokeWidth":1,"opacity":1},"encoding":{"x":{"field":"day","type":"quantitative"},"y":{"field":"v","type":"quantitative"}}},
{"data":{"name":"area"},"transform":[{"filter":"datum.panel==='NORMAL'"}],"mark":{"type":"circle","size":40,"color":"#000","opacity":1},"encoding":{"x":{"field":"day","type":"quantitative"},"y":{"field":"cond","type":"quantitative"}}},
{"data":{"name":"area"},"transform":[{"filter":"datum.panel==='NORMAL' && datum.day>1"}],"mark":{"type":"text","dy":-12,"font":"Lato","fontSize":11,"color":"#222"},"encoding":{"x":{"field":"day","type":"quantitative"},"y":{"field":"adv","type":"quantitative"},"text":{"field":"adv","type":"quantitative","format":".2f"}}},
{"data":{"name":"rlab"},"transform":[{"filter":"datum.panel==='NORMAL'"}],"mark":{"type":"text","style":"halo"},"encoding":{"x":{"field":"day","type":"quantitative"},"y":{"field":"value","type":"quantitative"},"text":{"field":"text"}}},
{"data":{"name":"rlab"},"transform":[{"filter":"datum.panel==='NORMAL'"}],"mark":{"type":"text","style":"rtext"},"encoding":{"x":{"field":"day","type":"quantitative"},"y":{"field":"value","type":"quantitative"},"text":{"field":"text"}}},
{"data":{"name":"ratio"},"transform":[{"filter":"datum.panel==='NORMAL'"}],"mark":{"type":"text","style":"ratio"},"encoding":{"x":{"field":"day","type":"quantitative"},"y":{"field":"value","type":"quantitative"},"text":{"field":"text"}}}
]
},
{
"width":344,"height":790,
"title":{"text":"Electrical Resistivity.","dx":12},
"layer":[
{"data":{"name":"area"},"transform":[{"filter":"datum.panel==='IMPROVED'"}],"mark":{"type":"area","fill":{"expr":"gred"}},
"encoding":{
"x":{"field":"day","type":"quantitative","scale":{"domain":[-2.539,9.055],"nice":false,"zero":false},"axis":{"values":[1,2,3,4,5,6,7],"title":"Measurement Instant (days)","tickColor":{"condition":{"test":"datum.value===1","value":"transparent"},"value":"#111"}}},
"y":{"field":"cond","type":"quantitative","scale":{"domain":[-1.79,11.55],"nice":false,"zero":false},"axis":{"values":[0,0.5,1,1.5,2,2.5,3,3.5,4,4.5,5,5.5,6,6.5,7,7.5,8,8.5,9],"labelExpr":"datum.value % 1 === 0 ? format(datum.value, '.2f') : ''","tickColor":{"condition":{"test":"datum.value===0","value":"transparent"},"value":"#111"},"title":"Electrical Resistivity (f(kΩcm))"}},
"y2":{"datum":0}}},
{"data":{"name":"area"},"transform":[{"filter":"datum.panel==='IMPROVED'"}],"mark":{"type":"area","fill":{"expr":"gblue"}},"encoding":{"x":{"field":"day","type":"quantitative"},"y":{"field":"inter","type":"quantitative"},"y2":{"field":"cond"}}},
{"data":{"name":"area"},"transform":[{"filter":"datum.panel==='IMPROVED'"}],"mark":{"type":"area","fill":{"expr":"gg1"}},"encoding":{"x":{"field":"day","type":"quantitative"},"y":{"field":"adv","type":"quantitative"},"y2":{"field":"inter"}}},
{"data":{"name":"area"},"transform":[{"filter":"datum.panel==='IMPROVED'"}],"mark":{"type":"area","fill":{"expr":"gg2"}},"encoding":{"x":{"field":"day","type":"quantitative"},"y":{"field":"adv","type":"quantitative"},"y2":{"field":"inter"}}},
{"data":{"name":"area"},"transform":[{"filter":"datum.panel==='IMPROVED'"},{"fold":["cond","inter","adv"],"as":["series","v"]}],"mark":{"type":"line","stroke":"#333","strokeWidth":1.1},"encoding":{"x":{"field":"day","type":"quantitative"},"y":{"field":"v","type":"quantitative"},"detail":{"field":"series"}}},
{"data":{"name":"one"},"mark":{"type":"rule","stroke":"#111","strokeWidth":1.3},"encoding":{"x":{"datum":1},"y":{"datum":0},"y2":{"datum":10.5}}},
{"data":{"name":"one"},"mark":{"type":"rule","stroke":"#111","strokeWidth":1.3},"encoding":{"x":{"datum":1},"x2":{"datum":7.87},"y":{"datum":0}}},
{"data":{"name":"one"},"mark":{"type":"rule","stroke":"#222","strokeWidth":1.3},"encoding":{"x":{"datum":-2.539}}},
{"data":{"name":"one"},"mark":{"type":"rule","stroke":"#222","strokeWidth":1.3},"encoding":{"y":{"datum":11.55}}},
{"data":{"name":"area"},"transform":[{"filter":"datum.panel==='IMPROVED'"},{"fold":["cond","inter","adv"],"as":["series","v"]}],"mark":{"type":"circle","size":40,"color":"#000","opacity":1},"encoding":{"x":{"field":"day","type":"quantitative"},"y":{"field":"v","type":"quantitative"}}},
{"data":{"name":"area"},"transform":[{"filter":"datum.panel==='IMPROVED' && datum.day>1"}],"mark":{"type":"text","dy":-12,"font":"Lato","fontSize":11,"color":"#222"},"encoding":{"x":{"field":"day","type":"quantitative"},"y":{"field":"adv","type":"quantitative"},"text":{"field":"adv","type":"quantitative","format":".2f"}}},
{"data":{"name":"rlab"},"transform":[{"filter":"datum.panel==='IMPROVED'"}],"mark":{"type":"text","style":"halo"},"encoding":{"x":{"field":"day","type":"quantitative"},"y":{"field":"value","type":"quantitative"},"text":{"field":"text"}}},
{"data":{"name":"rlab"},"transform":[{"filter":"datum.panel==='IMPROVED'"}],"mark":{"type":"text","style":"rtext"},"encoding":{"x":{"field":"day","type":"quantitative"},"y":{"field":"value","type":"quantitative"},"text":{"field":"text"}}},
{"data":{"name":"rrot"},"transform":[{"filter":"datum.panel==='IMPROVED'"}],"mark":{"type":"text","style":"halo","angle":298},"encoding":{"x":{"field":"day","type":"quantitative"},"y":{"field":"value","type":"quantitative"},"text":{"field":"text"}}},
{"data":{"name":"rrot"},"transform":[{"filter":"datum.panel==='IMPROVED'"}],"mark":{"type":"text","style":"rtext","angle":298},"encoding":{"x":{"field":"day","type":"quantitative"},"y":{"field":"value","type":"quantitative"},"text":{"field":"text"}}},
{"data":{"name":"ratio"},"transform":[{"filter":"datum.panel==='IMPROVED'"}],"mark":{"type":"text","style":"ratio"},"encoding":{"x":{"field":"day","type":"quantitative"},"y":{"field":"value","type":"quantitative"},"text":{"field":"text"}}}
]
}
],
"config":{
"view":{"stroke":null},
"font":"Lato",
"concat":{"spacing":0},
"title":{"font":"Lato","fontSize":24,"fontWeight":"normal","color":"#111","offset":-53,"frame":"group","anchor":"middle"},
"axis":{"grid":false,"domain":false,"labelFont":"Lato","labelFontSize":12,"labelColor":"#222","titleFont":"Lato","titleFontSize":11.5,"titleFontWeight":"normal","titleColor":"#222","tickWidth":1.3,"labelOverlap":false,"labelBound":false,"labelFlush":false},
"axisY":{"offset":-115,"tickSize":15,"labelPadding":3,"titleX":-70,"titleY":418,"titleAngle":270,"titleBaseline":"middle","titleAlign":"center"},
"axisX":{"offset":-106,"tickSize":11,"labelPadding":4,"titleX":196,"titleY":49,"titleBaseline":"middle","titleAlign":"center"},
"style":{
"halo":{"font":"Lato","fontSize":11,"stroke":"white","strokeWidth":6,"strokeJoin":"round","fill":"white","lineBreak":"\n","lineHeight":13,"align":"center","baseline":"middle"},
"rtext":{"font":"Lato","fontSize":11,"fill":"#333","lineBreak":"\n","lineHeight":13,"align":"center","baseline":"middle"},
"ratio":{"font":"Lato","fontSize":22,"fill":"#111","lineBreak":"\n","lineHeight":25.5,"align":"left","baseline":"middle"}
}
}
}
